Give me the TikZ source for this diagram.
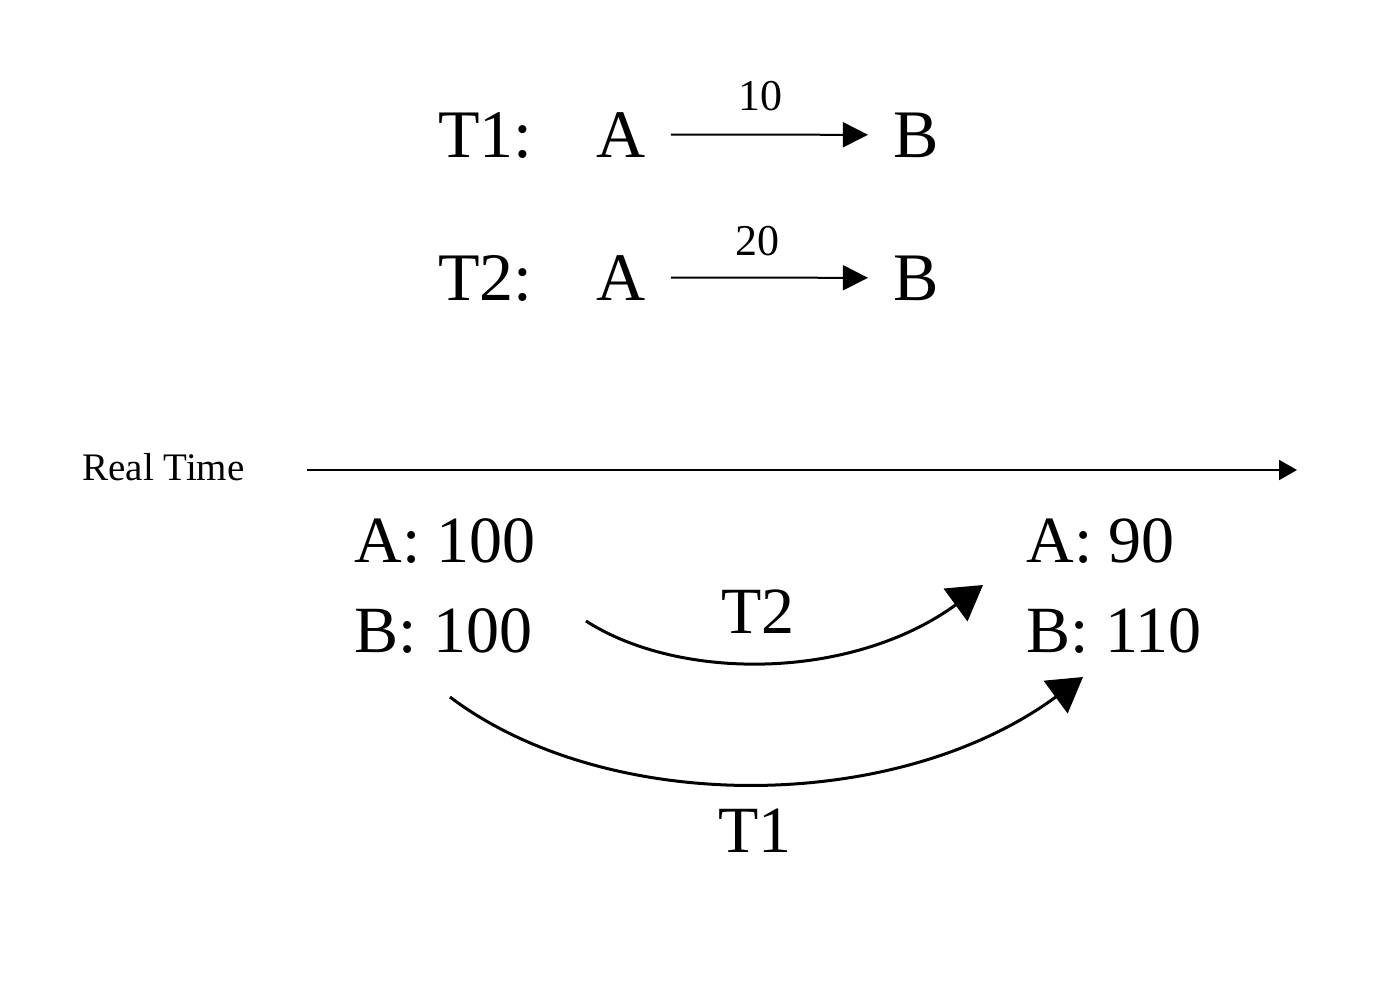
\documentclass[tikz,border=0pt]{standalone}
\usepackage{fontspec}
\setmainfont{Liberation Serif}
\usetikzlibrary{arrows.meta}
\begin{document}
\begin{tikzpicture}[x=0.5pt,y=-0.5pt,
  big/.style={font=\fontsize{34pt}{40pt}\selectfont, inner sep=0pt},
  mid/.style={font=\fontsize{33pt}{40pt}\selectfont, inner sep=0pt},
  small/.style={font=\fontsize{22pt}{26pt}\selectfont, inner sep=0pt},
  tiny/.style={font=\fontsize{19.5pt}{23pt}\selectfont, inner sep=0pt},
  endpt/.style={font=\fontsize{34pt}{40pt}\selectfont, inner xsep=12.5pt, inner ysep=0pt, anchor=base},
  toparr/.style={line width=1pt, -{Triangle[length=12.5pt,width=12.5pt]}},
  timearr/.style={line width=1pt, -{Triangle[length=9pt,width=10pt]}},
  curvarr/.style={line width=1.5pt, -{Triangle[length=17pt,width=20pt]}}]
\path[use as bounding box] (0,0) rectangle (1380,980);

% top: transfers
\node[big, anchor=base west] (t1) at (438,157) {T1:};
\node[endpt] (a1) at (621,157) {A};
\node[endpt] (b1) at (916,157) {B};
\node[small, anchor=base] (n10) at (760,110) {10};
\draw[toparr] (a1) -- (b1);

\node[big, anchor=base west] (t2) at (438,300) {T2:};
\node[endpt] (a2) at (621,300) {A};
\node[endpt] (b2) at (916,300) {B};
\node[small, anchor=base] (n20) at (757,255) {20};
\draw[toparr] (a2) -- (b2);

% real time axis
\node[tiny, anchor=base west] (rt) at (82,480) {Real Time};
\coordinate (rt0) at (307,470);
\coordinate (rt1) at (1297,470);
\draw[timearr] (rt0) -- (rt1);

% states
\node[mid, anchor=base west] (sa0) at (354,562) {A: 100};
\node[mid, anchor=base west] (sb0) at (354,652) {B: 100};
\node[mid, anchor=base west] (sa1) at (1026,562) {A: 90};
\node[mid, anchor=base west] (sb1) at (1026,652) {B: 110};

% curved transitions
\coordinate (c2s) at (586,621);
\coordinate (c2e) at (983,585);
\draw[curvarr] (c2s) .. controls (679,681) and (851,681) .. (c2e);
\node[mid, anchor=base] (lt2) at (758,633) {T2};

\coordinate (c1s) at (450,697);
\coordinate (c1e) at (1083,677);
\draw[curvarr] (c1s) .. controls (606,815) and (895,815) .. (c1e);
\node[mid, anchor=base] (lt1) at (755,852) {T1};
\end{tikzpicture}
\end{document}
